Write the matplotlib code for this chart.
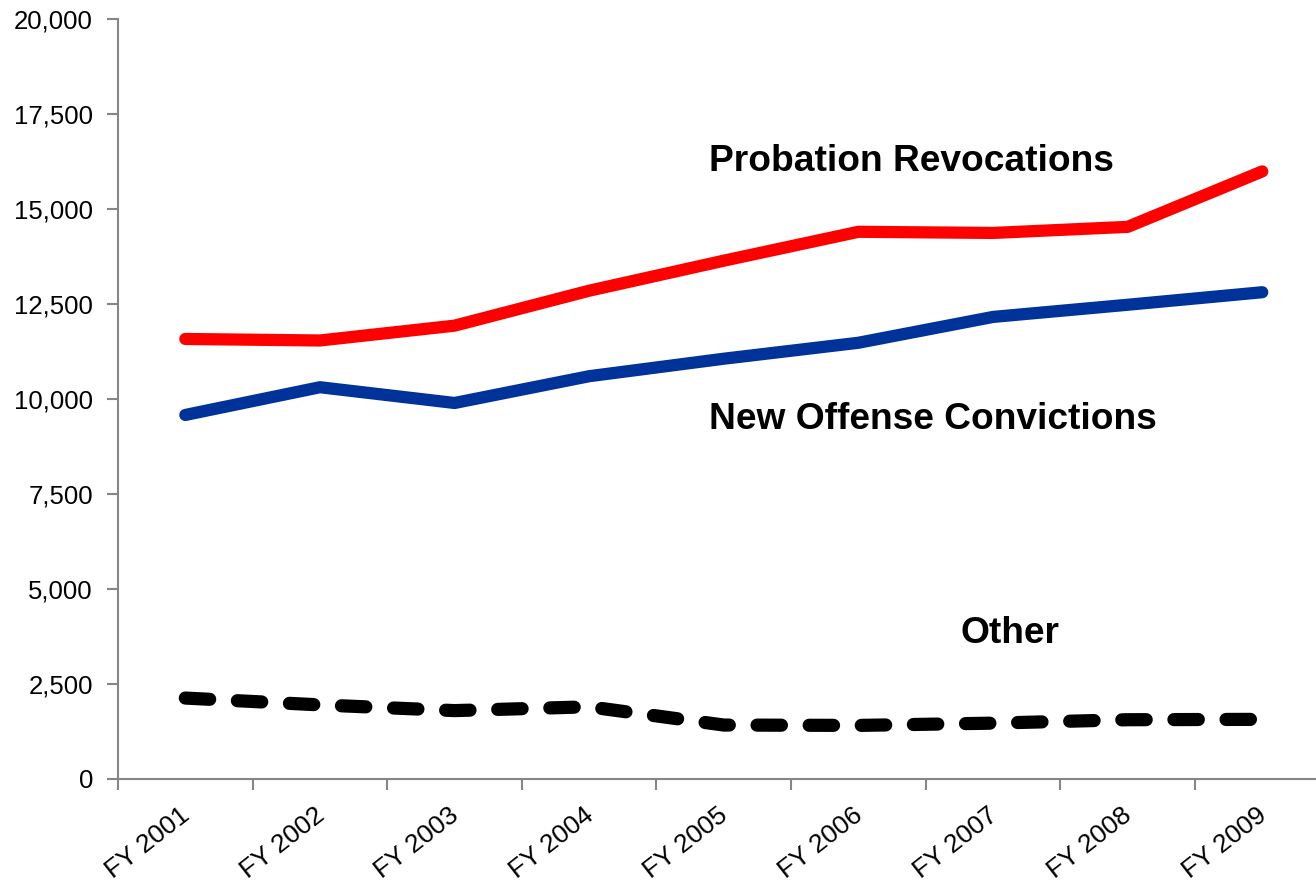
import matplotlib.pyplot as plt
from matplotlib.ticker import FuncFormatter
from matplotlib.transforms import ScaledTranslation

plt.rcParams['font.family'] = ['Liberation Sans', 'DejaVu Sans']

years = ['FY 2001', 'FY 2002', 'FY 2003', 'FY 2004', 'FY 2005',
         'FY 2006', 'FY 2007', 'FY 2008', 'FY 2009']
probation = [11580, 11540, 11930, 12850, 13640, 14400, 14370, 14530, 15990]
new_offense = [9580, 10310, 9895, 10600, 11060, 11480, 12160, 12480, 12810]
other = [2130, 1950, 1800, 1900, 1420, 1410, 1470, 1560, 1570]

fig = plt.figure(figsize=(13.16, 8.84), dpi=100)
ax = fig.add_axes([118/1316, 105/884, 1211.6/1316, 760/884])

x = list(range(len(years)))
ax.plot(x, probation, color='#ff0000', lw=8.8, solid_capstyle='round', solid_joinstyle='round')
ax.plot(x, new_offense, color='#003399', lw=8.8, solid_capstyle='round', solid_joinstyle='round')
ax.plot(x, other, color='black', lw=9.5, linestyle=(0, (1.85, 2.1)),
        dash_capstyle='round', dash_joinstyle='round')

ax.set_xlim(-0.5, len(years) - 0.5)
ax.set_ylim(0, 20000)
ax.set_yticks(range(0, 20001, 2500))
ax.yaxis.set_major_formatter(FuncFormatter(lambda v, p: f'{int(v):,}'))

# ticks on category boundaries, labels at category centres
ax.set_xticks([i - 0.5 for i in range(len(years) + 1)])
ax.set_xticklabels([])
ax.set_xticks(x, minor=True)
ax.set_xticklabels(years, minor=True, rotation=38, ha='right', va='top',
                   rotation_mode='anchor', fontsize=19)
ax.tick_params(axis='x', which='minor', length=0, pad=17)
ax.tick_params(axis='both', which='major', length=8, width=1.5, color='#868686',
               labelsize=18.5)
ax.tick_params(axis='y', pad=10)
for lab in ax.get_xticklabels(minor=True):
    lab.set_transform(lab.get_transform() + ScaledTranslation(-0.06, 0, fig.dpi_scale_trans))

for s in ['top', 'right']:
    ax.spines[s].set_visible(False)
for s in ['left', 'bottom']:
    ax.spines[s].set_color('#868686')
    ax.spines[s].set_linewidth(1.5)

ax.text(3.89, 16250, 'Probation Revocations', fontsize=26.7, fontweight='bold', va='center')
ax.text(3.89, 9450, 'New Offense Convictions', fontsize=26.7, fontweight='bold', va='center')
ax.text(5.755, 3820, 'Other', fontsize=26.7, fontweight='bold', va='center')

fig.savefig('out.png', dpi=100)
